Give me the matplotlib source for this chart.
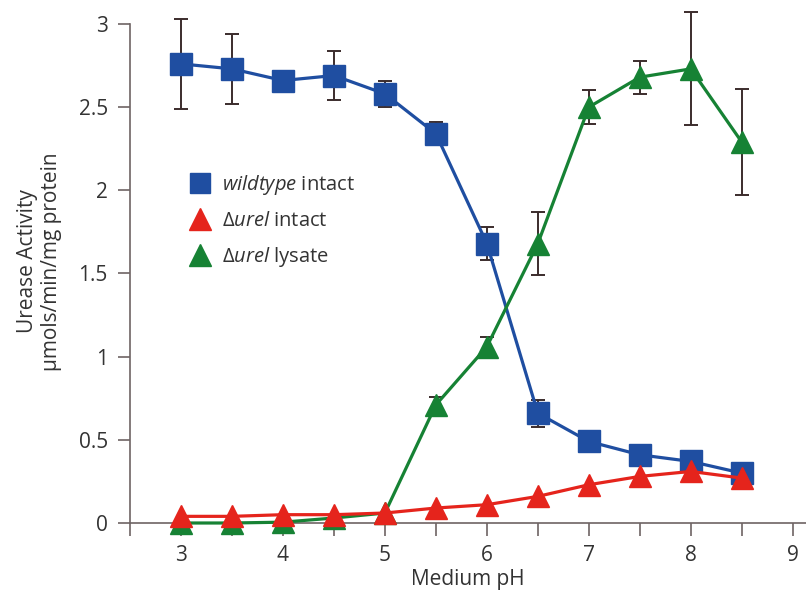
import matplotlib
matplotlib.use('Agg')
import matplotlib.pyplot as plt
from matplotlib.lines import Line2D
from matplotlib.ticker import MultipleLocator
import numpy as np

ph = [3, 3.5, 4, 4.5, 5, 5.5, 6, 6.5, 7, 7.5, 8, 8.5]

wildtype_intact = [2.76, 2.73, 2.66, 2.69, 2.58, 2.34, 1.68, 0.66, 0.49, 0.41, 0.37, 0.30]
wildtype_err = [0.27, 0.21, 0, 0.15, 0.08, 0.07, 0.10, 0.08, 0, 0, 0, 0]

urei_intact = [0.04, 0.04, 0.05, 0.05, 0.06, 0.09, 0.11, 0.16, 0.23, 0.28, 0.31, 0.27]

urei_lysate = [0.0, 0.0, 0.005, 0.03, 0.06, 0.71, 1.06, 1.68, 2.50, 2.68, 2.73, 2.29]
urei_lysate_err = [0, 0, 0, 0, 0, 0.05, 0.06, 0.19, 0.10, 0.10, 0.34, 0.32]

labels = [r'$\mathit{wildtype}$ intact', r'$\mathit{Δurel}$ intact', r'$\mathit{Δurel}$ lysate']

BLUE = '#1f4ea1'
RED = '#e5241c'
GREEN = '#168234'
ERR = '#3b2c2c'
AXIS = '#6e6464'
TEXT = '#333333'

plt.rcParams['font.family'] = ['Open Sans', 'DejaVu Sans']
plt.rcParams['mathtext.fontset'] = 'custom'
plt.rcParams['mathtext.rm'] = 'Open Sans'
plt.rcParams['mathtext.it'] = 'Open Sans:italic'

fig = plt.figure(figsize=(8.06, 5.91), dpi=100)
ax = fig.add_axes([130 / 806, 68 / 591, 676 / 806, 523 / 591])

ax.errorbar(ph, wildtype_intact, yerr=wildtype_err, color=BLUE, lw=2.3,
            marker='s', markersize=15.5, ecolor=ERR, elinewidth=1.4,
            capsize=5, capthick=1.4, zorder=2, clip_on=False)
ax.errorbar(ph, urei_lysate, yerr=urei_lysate_err, color=GREEN, lw=2.3,
            marker='^', markersize=16.5, ecolor=ERR, elinewidth=1.4,
            capsize=5, capthick=1.4, zorder=3, clip_on=False)
ax.plot(ph, urei_intact, color=RED, lw=2.3, marker='^', markersize=16.5,
        zorder=4, clip_on=False)

ax.set_xlim(2.5, 9.13)
ax.set_ylim(0, 3.144)

ax.spines['top'].set_visible(False)
ax.spines['right'].set_visible(False)
ax.spines['left'].set_bounds(0, 3)
for s in ('left', 'bottom'):
    ax.spines[s].set_color(AXIS)
    ax.spines[s].set_linewidth(1.2)

ax.xaxis.set_minor_locator(MultipleLocator(0.5))
ax.set_xticks([3, 4, 5, 6, 7, 8, 9])
ax.set_yticks([0, 0.5, 1, 1.5, 2, 2.5, 3])
ax.set_yticklabels(['0', '0.5', '1', '1.5', '2', '2.5', '3'])
ax.tick_params(which='both', direction='out', length=9, width=1.2,
               color=AXIS, labelsize=15, labelcolor=TEXT)
ax.tick_params(axis='x', which='both', pad=7)
ax.tick_params(axis='y', pad=7)

ax.set_xlabel('Medium pH', fontsize=15, color=TEXT, labelpad=2)
ax.set_ylabel('Urease Activity\nμmols/min/mg protein', fontsize=15,
              color=TEXT, labelpad=12, linespacing=1.15)

handles = [
    Line2D([], [], ls='none', marker='s', markersize=15, color=BLUE),
    Line2D([], [], ls='none', marker='^', markersize=16, color=RED),
    Line2D([], [], ls='none', marker='^', markersize=16, color=GREEN),
]
leg = ax.legend(handles, labels, loc='upper left',
                bbox_to_anchor=(50 / 676, 1 - 163 / 523), frameon=False,
                fontsize=14.5, handlelength=1.0, handletextpad=0.6,
                labelspacing=0.7, borderpad=0)
for t in leg.get_texts():
    t.set_color(TEXT)

fig.savefig('out.png', dpi=100)
